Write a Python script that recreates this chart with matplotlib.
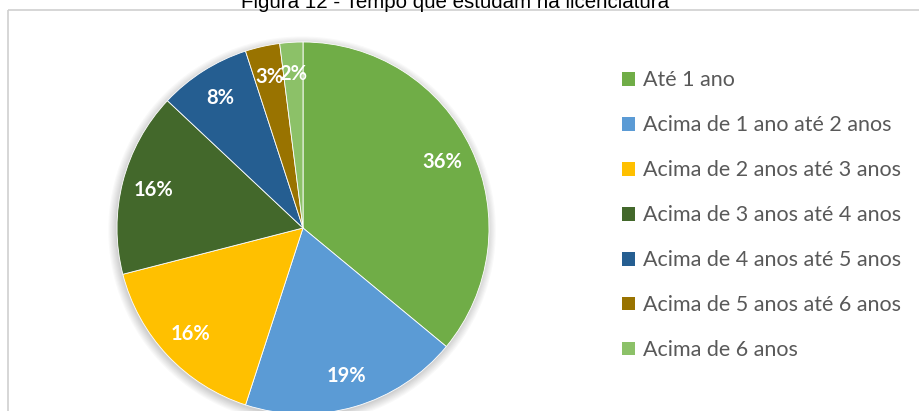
import numpy as np
import matplotlib.pyplot as plt
from matplotlib.patches import Rectangle, Circle

# dados do gráfico
categorias = ['Até 1 ano', 'Acima de 1 ano até 2 anos', 'Acima de 2 anos até 3 anos',
              'Acima de 3 anos até 4 anos', 'Acima de 4 anos até 5 anos',
              'Acima de 5 anos até 6 anos', 'Acima de 6 anos']
valores = [36, 19, 16, 16, 8, 3, 2]
cores = ['#70AD47', '#5B9BD5', '#FFC000', '#43682B', '#255E91', '#997300', '#8CC168']
titulo = 'Figura 12 - Tempo que estudam na licenciatura'

W, H = 920, 411
fig = plt.figure(figsize=(W / 100, H / 100), dpi=100)
fig.patch.set_facecolor('white')

# área do gráfico com fundo listrado
bg = fig.add_axes([0, 0, 1, 1])
bg.set_xlim(0, W)
bg.set_ylim(H, 0)
bg.axis('off')
plt.rcParams['hatch.color'] = '#e8e8e8'
plt.rcParams['hatch.linewidth'] = 0.8
bg.add_patch(Rectangle((8, 10), W, H, facecolor='white', edgecolor='none', hatch='\\\\\\\\'))
bg.add_patch(Rectangle((8, 10), W, H, facecolor='none', edgecolor='#d0d0d0', lw=1.2))

# título (cortado no topo)
fig.text(455 / W, 1 - 8 / H, titulo, ha='center', va='baseline',
         fontsize=14.8, family='Liberation Sans', color='black')

# pizza
cx, cy, r = 303, 228, 186
ax = fig.add_axes([(cx - r) / W, (H - cy - r) / H, 2 * r / W, 2 * r / H])

wedges, _, autotexts = ax.pie(valores, colors=cores, startangle=90, counterclock=False,
                              radius=1, autopct='%1.0f%%', pctdistance=0.83,
                              wedgeprops=dict(edgecolor='white', linewidth=0.6),
                              textprops=dict(color='white', fontsize=14.5,
                                             fontweight='bold', family='Lato'))
ax.set_xlim(-1, 1)
ax.set_ylim(-1, 1)
ax.set_aspect('equal')
ax.axis('off')

# sombra suave
for k in range(8):
    ax.add_patch(Circle((-0.005, -0.012), 1.0 + 0.006 * k, color='black',
                        alpha=0.025, lw=0, zorder=0, clip_on=False))
for w in wedges:
    w.set_zorder(2)
for t in autotexts:
    t.set_zorder(3)

# legenda
leg = fig.legend(wedges, categorias, loc='upper left',
                 bbox_to_anchor=(603 / W, 1 - 51 / H), frameon=False,
                 prop=dict(family='Lato', size=15.5), labelcolor='#595959',
                 handlelength=0.6, handleheight=0.6, handletextpad=0.35,
                 labelspacing=1.16)
for h in leg.legend_handles:
    h.set_edgecolor('none')

fig.savefig('out.png', dpi=100)
